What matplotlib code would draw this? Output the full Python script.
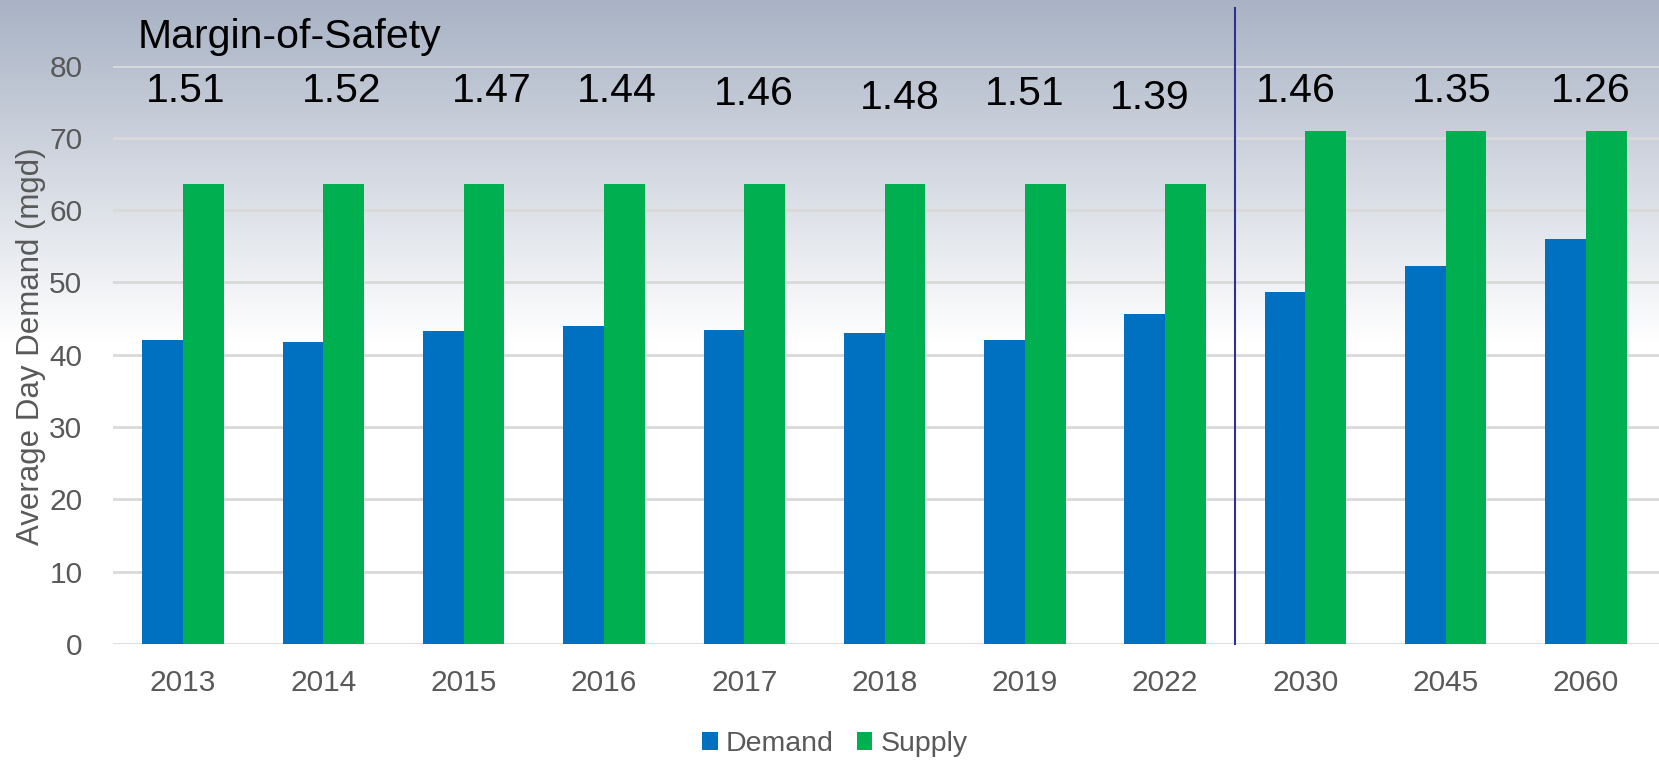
import matplotlib
matplotlib.use('Agg')
import matplotlib.pyplot as plt
from matplotlib import font_manager
import numpy as np

# pick a narrow sans if there is one
names = {f.name for f in font_manager.fontManager.ttflist}
FONT = 'Liberation Sans Narrow' if 'Liberation Sans Narrow' in names else 'Liberation Sans'
plt.rcParams['font.family'] = [FONT, 'DejaVu Sans']

DEMAND_C = '#0070C0'
SUPPLY_C = '#00B050'
GRID_C = '#D9D9D9'
TICK_C = '#595959'

years = ['2013', '2014', '2015', '2016', '2017', '2018', '2019', '2022', '2030', '2045', '2060']
demand = [42.0, 41.7, 43.3, 44.0, 43.4, 43.0, 42.1, 45.6, 48.7, 52.3, 56.0]
supply = [63.6, 63.6, 63.6, 63.6, 63.6, 63.6, 63.6, 63.6, 70.9, 70.9, 70.9]
margins = ['1.51', '1.52', '1.47', '1.44', '1.46', '1.48', '1.51', '1.39', '1.46', '1.35', '1.26']

# hand placed label positions (offset from category, baseline height)
label_dx = [0.02, 0.13, 0.20, 0.09, 0.07, 0.11, 0.0, -0.11, -0.07, 0.04, 0.03]
label_y = [74.9, 74.9, 74.9, 74.9, 74.5, 74.0, 74.5, 74.0, 74.9, 74.9, 74.9]

fig = plt.figure(figsize=(16.59, 7.62), dpi=100)

# background gradient, grey-blue at top fading to white
bg = fig.add_axes([0, 0, 1, 1], zorder=0)
t = np.linspace(0, 1, 400)
fade = np.clip(t / 0.45, 0, 1)
top = np.array([0.66, 0.70, 0.77])
grad = top[None, :] * (1 - fade[:, None]) + np.ones(3)[None, :] * fade[:, None]
bg.imshow(grad[:, None, :], aspect='auto', extent=[0, 1, 0, 1])
bg.axis('off')

ax = fig.add_axes([0.0681, 0.1549, 0.9319, 0.759], zorder=1)
ax.patch.set_alpha(0)

x = np.arange(len(years))
w = 0.29
ax.bar(x - w / 2, demand, w, color=DEMAND_C, label='Demand', zorder=3)
ax.bar(x + w / 2, supply, w, color=SUPPLY_C, label='Supply', zorder=3)

ax.set_xlim(-0.5, 10.52)
ax.set_ylim(0, 80)
ax.set_yticks(range(0, 81, 10))
ax.yaxis.grid(True, color=GRID_C, linewidth=2, zorder=0)
ax.set_axisbelow(True)
for s in ax.spines.values():
    s.set_visible(False)
ax.tick_params(length=0, labelsize=21.5, colors=TICK_C)
ax.tick_params(axis='y', pad=22)
ax.tick_params(axis='x', pad=18)
ax.set_xticks(x)
ax.set_xticklabels(years)
ax.set_ylabel('Average Day Demand (mgd)', fontsize=22.5, color=TICK_C)
ax.yaxis.set_label_coords(-0.043, 0.515)

# divider between history and projections
ax.axvline(7.5, 0, 1.10, color='#2E3192', linewidth=1.5, clip_on=False, zorder=4)

for i, m in enumerate(margins):
    ax.text(x[i] + label_dx[i], label_y[i], m, fontsize=29.5, ha='center', va='baseline',
            color='black', zorder=5)

fig.text(0.083, 0.9375, 'Margin-of-Safety', fontsize=29.5, ha='left', va='baseline', color='black')

ax.legend(loc='lower center', bbox_to_anchor=(0.467, -0.24), ncol=2, frameon=False,
          fontsize=20.5, handlelength=0.55, handleheight=0.55, handletextpad=0.3,
          columnspacing=0.8, labelcolor=TICK_C)

fig.savefig('out.png', dpi=100)
